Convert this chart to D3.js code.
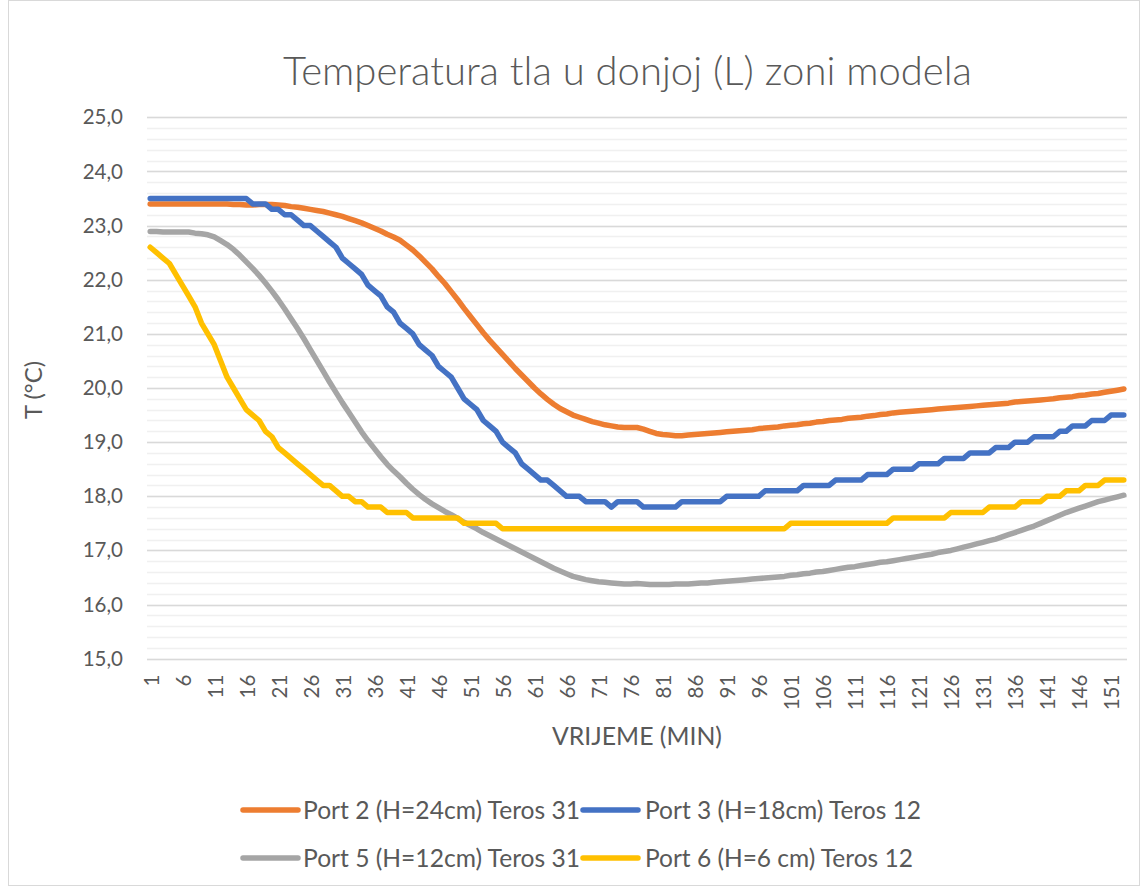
<!DOCTYPE html>
<html>
<head>
<meta charset="utf-8">
<script src="https://cdn.jsdelivr.net/npm/d3@7"></script>
<style>
  html, body { margin: 0; padding: 0; background: #ffffff; }
  svg { display: block; }
  text { font-family: Lato, "Open Sans", "DejaVu Sans", sans-serif; fill: #595959; }
</style>
</head>
<body>
<svg id="chart" width="1143" height="886"></svg>
<script>
// ---------------- DATA ----------------
const minutes = [
  1,2,3,4,5,6,7,8,9,10,11,12,13,14,15,16,17,18,19,20,
  21,22,23,24,25,26,27,28,29,30,31,32,33,34,35,36,37,38,39,40,
  41,42,43,44,45,46,47,48,49,50,51,52,53,54,55,56,57,58,59,60,
  61,62,63,64,65,66,67,68,69,70,71,72,73,74,75,76,77,78,79,80,
  81,82,83,84,85,86,87,88,89,90,91,92,93,94,95,96,97,98,99,100,
  101,102,103,104,105,106,107,108,109,110,111,112,113,114,115,116,117,118,119,120,
  121,122,123,124,125,126,127,128,129,130,131,132,133,134,135,136,137,138,139,140,
  141,142,143,144,145,146,147,148,149,150,151,152,153
];

const xTickLabels = ["1","6","11","16","21","26","31","36","41","46","51","56","61","66","71","76","81","86","91","96","101","106","111","116","121","126","131","136","141","146","151"];
const yTickValues = [15,16,17,18,19,20,21,22,23,24,25];
const yTickLabels = ["15,0","16,0","17,0","18,0","19,0","20,0","21,0","22,0","23,0","24,0","25,0"];

const seriesNames = [
  "Port 2 (H=24cm) Teros 31",
  "Port 3 (H=18cm) Teros 12",
  "Port 5 (H=12cm) Teros 31",
  "Port 6 (H=6 cm) Teros 12"
];
const seriesColors = ["#ED7D31", "#4472C4", "#A5A5A5", "#FFC000"];

const port2 = [
  23.40,23.40,23.40,23.40,23.40,23.40,23.40,23.40,23.40,23.40,
  23.40,23.40,23.40,23.39,23.39,23.38,23.38,23.39,23.39,23.39,
  23.38,23.37,23.35,23.34,23.32,23.30,23.28,23.26,23.23,23.20,
  23.17,23.13,23.09,23.05,23.00,22.95,22.90,22.84,22.79,22.73,
  22.64,22.55,22.44,22.32,22.20,22.06,21.93,21.78,21.63,21.47,
  21.32,21.17,21.02,20.88,20.75,20.62,20.49,20.36,20.24,20.12,
  20.00,19.89,19.79,19.70,19.62,19.56,19.50,19.46,19.42,19.38,
  19.35,19.32,19.30,19.28,19.27,19.27,19.27,19.24,19.20,19.16,
  19.14,19.13,19.12,19.12,19.13,19.14,19.15,19.16,19.17,19.18,
  19.19,19.20,19.21,19.22,19.23,19.25,19.26,19.27,19.28,19.30,
  19.31,19.32,19.34,19.35,19.37,19.38,19.40,19.41,19.42,19.44,
  19.45,19.46,19.48,19.49,19.51,19.52,19.54,19.55,19.56,19.57,
  19.58,19.59,19.60,19.61,19.62,19.63,19.64,19.65,19.66,19.67,
  19.68,19.69,19.70,19.71,19.72,19.74,19.75,19.76,19.77,19.78,
  19.79,19.80,19.82,19.83,19.84,19.86,19.87,19.89,19.90,19.92,
  19.94,19.96,19.98
];

const port3 = [
  23.5,23.5,23.5,23.5,23.5,23.5,23.5,23.5,23.5,23.5,
  23.5,23.5,23.5,23.5,23.5,23.5,23.4,23.4,23.4,23.3,
  23.3,23.2,23.2,23.1,23.0,23.0,22.9,22.8,22.7,22.6,
  22.4,22.3,22.2,22.1,21.9,21.8,21.7,21.5,21.4,21.2,
  21.1,21.0,20.8,20.7,20.6,20.4,20.3,20.2,20.0,19.8,
  19.7,19.6,19.4,19.3,19.2,19.0,18.9,18.8,18.6,18.5,
  18.4,18.3,18.3,18.2,18.1,18.0,18.0,18.0,17.9,17.9,
  17.9,17.9,17.8,17.9,17.9,17.9,17.9,17.8,17.8,17.8,
  17.8,17.8,17.8,17.9,17.9,17.9,17.9,17.9,17.9,17.9,
  18.0,18.0,18.0,18.0,18.0,18.0,18.1,18.1,18.1,18.1,
  18.1,18.1,18.2,18.2,18.2,18.2,18.2,18.3,18.3,18.3,
  18.3,18.3,18.4,18.4,18.4,18.4,18.5,18.5,18.5,18.5,
  18.6,18.6,18.6,18.6,18.7,18.7,18.7,18.7,18.8,18.8,
  18.8,18.8,18.9,18.9,18.9,19.0,19.0,19.0,19.1,19.1,
  19.1,19.1,19.2,19.2,19.3,19.3,19.3,19.4,19.4,19.4,
  19.5,19.5,19.5
];

const port5 = [
  22.89,22.89,22.88,22.88,22.88,22.88,22.88,22.86,22.85,22.83,
  22.79,22.72,22.65,22.56,22.45,22.33,22.21,22.08,21.94,21.79,
  21.63,21.46,21.28,21.10,20.91,20.71,20.51,20.31,20.11,19.92,
  19.73,19.55,19.37,19.19,19.03,18.88,18.73,18.59,18.47,18.36,
  18.24,18.13,18.03,17.94,17.86,17.79,17.72,17.66,17.59,17.52,
  17.46,17.40,17.33,17.27,17.21,17.15,17.09,17.03,16.97,16.91,
  16.85,16.79,16.73,16.67,16.62,16.57,16.52,16.49,16.46,16.44,
  16.42,16.41,16.40,16.39,16.38,16.38,16.39,16.38,16.37,16.37,
  16.37,16.37,16.38,16.38,16.38,16.39,16.40,16.40,16.41,16.42,
  16.43,16.44,16.45,16.46,16.47,16.48,16.49,16.50,16.51,16.52,
  16.54,16.55,16.57,16.58,16.60,16.61,16.63,16.65,16.67,16.69,
  16.70,16.72,16.74,16.76,16.78,16.79,16.81,16.83,16.85,16.87,
  16.89,16.91,16.93,16.96,16.98,17.00,17.03,17.06,17.09,17.12,
  17.15,17.18,17.21,17.25,17.29,17.33,17.37,17.41,17.45,17.50,
  17.55,17.60,17.65,17.70,17.74,17.78,17.82,17.86,17.90,17.93,
  17.96,17.99,18.02
];

const port6 = [
  22.6,22.5,22.4,22.3,22.1,21.9,21.7,21.5,21.2,21.0,
  20.8,20.5,20.2,20.0,19.8,19.6,19.5,19.4,19.2,19.1,
  18.9,18.8,18.7,18.6,18.5,18.4,18.3,18.2,18.2,18.1,
  18.0,18.0,17.9,17.9,17.8,17.8,17.8,17.7,17.7,17.7,
  17.7,17.6,17.6,17.6,17.6,17.6,17.6,17.6,17.6,17.5,
  17.5,17.5,17.5,17.5,17.5,17.4,17.4,17.4,17.4,17.4,
  17.4,17.4,17.4,17.4,17.4,17.4,17.4,17.4,17.4,17.4,
  17.4,17.4,17.4,17.4,17.4,17.4,17.4,17.4,17.4,17.4,
  17.4,17.4,17.4,17.4,17.4,17.4,17.4,17.4,17.4,17.4,
  17.4,17.4,17.4,17.4,17.4,17.4,17.4,17.4,17.4,17.4,
  17.5,17.5,17.5,17.5,17.5,17.5,17.5,17.5,17.5,17.5,
  17.5,17.5,17.5,17.5,17.5,17.5,17.6,17.6,17.6,17.6,
  17.6,17.6,17.6,17.6,17.6,17.7,17.7,17.7,17.7,17.7,
  17.7,17.8,17.8,17.8,17.8,17.8,17.9,17.9,17.9,17.9,
  18.0,18.0,18.0,18.1,18.1,18.1,18.2,18.2,18.2,18.3,
  18.3,18.3,18.3
];

const seriesValues = [port2, port3, port5, port6];

// ---------------- LAYOUT ----------------
const W = 1143, H = 886;
const plotLeft = 147, plotRight = 1127, plotTop = 117.3, plotBottom = 658.7;

const svg = d3.select("#chart");
svg.append("rect").attr("x", 0).attr("y", 0).attr("width", W).attr("height", H).attr("fill", "#ffffff");
// chart area border
svg.append("rect").attr("x", 8.5).attr("y", 0.5).attr("width", 1131).attr("height", 885)
  .attr("fill", "none").attr("stroke", "#d9d9d9").attr("stroke-width", 1);

const x = d3.scaleBand().domain(minutes).range([plotLeft, plotRight]).padding(0);
const y = d3.scaleLinear().domain([15, 25]).range([plotBottom, plotTop]);
const cx = d => x(d) + x.bandwidth() / 2;

// minor gridlines (0.2)
const minorTicks = y.ticks(50);
svg.append("g").selectAll("line").data(minorTicks).join("line")
  .attr("x1", plotLeft).attr("x2", plotRight)
  .attr("y1", d => Math.round(y(d)) + 0.5).attr("y2", d => Math.round(y(d)) + 0.5)
  .attr("stroke", "#f0f0f0").attr("stroke-width", 1.5);

// y-axis labels via d3.axisLeft
const yAxis = d3.axisLeft(y).tickValues(yTickValues)
  .tickFormat((d, i) => yTickLabels[i]).tickSize(0).tickPadding(0);
const gy = svg.append("g").attr("transform", `translate(${plotLeft},0)`).call(yAxis);
gy.select(".domain").remove();
gy.selectAll("line").remove();
gy.selectAll("text").attr("x", 123 - plotLeft).attr("font-size", 20.5).attr("fill", "#595959")
  .style("font-family", "Lato, 'Open Sans', sans-serif");

// major gridlines
svg.append("g").selectAll("line").data(yTickValues).join("line")
  .attr("x1", plotLeft).attr("x2", plotRight)
  .attr("y1", d => Math.round(y(d)) + 0.5).attr("y2", d => Math.round(y(d)) + 0.5)
  .attr("stroke", "#d9d9d9").attr("stroke-width", 1.5);

// x axis (category labels rotated)
const xAxis = d3.axisBottom(x)
  .tickValues(minutes.filter(m => xTickLabels.includes(String(m))))
  .tickFormat(d => String(d)).tickSize(0).tickPadding(0);
const gx = svg.append("g").attr("transform", `translate(0,${plotBottom})`).call(xAxis);
gx.select(".domain").remove();
gx.selectAll("line").remove();
gx.selectAll("text")
  .attr("font-size", 20.5).attr("fill", "#595959")
  .style("font-family", "Lato, 'Open Sans', sans-serif")
  .attr("text-anchor", "end")
  .attr("transform", "translate(1,16) rotate(-90)")
  .attr("x", 0).attr("y", 0).attr("dy", "0.36em");

// series lines
const line = d3.line().x((v, i) => cx(minutes[i])).y(v => y(v));
const gLines = svg.append("g");
seriesValues.forEach((vals, k) => {
  gLines.append("path").datum(vals)
    .attr("d", line)
    .attr("fill", "none")
    .attr("stroke", seriesColors[k])
    .attr("stroke-width", 5.5)
    .attr("stroke-linejoin", "round")
    .attr("stroke-linecap", "round");
});

// helper to fit text to a target width
function fitWidth(sel, target) {
  const node = sel.node();
  const w = node.getComputedTextLength();
  if (w > 0) {
    const fs = parseFloat(sel.attr("font-size"));
    sel.attr("font-size", (fs * target / w).toFixed(2));
  }
}

// title
const title = svg.append("text")
  .attr("x", 627.5).attr("y", 85)
  .attr("text-anchor", "middle")
  .attr("font-size", 36).attr("font-weight", 300)
  .text("Temperatura tla u donjoj (L) zoni modela");
fitWidth(title, 689);

// axis titles
const xt = svg.append("text")
  .attr("x", 637).attr("y", 745)
  .attr("text-anchor", "middle").attr("font-size", 20)
  .text("VRIJEME (MIN)");
fitWidth(xt, 170);

const yt = svg.append("text")
  .attr("transform", "translate(42,390) rotate(-90)")
  .attr("text-anchor", "middle").attr("font-size", 20)
  .text("T (°C)");
fitWidth(yt, 58);

// legend
const legendItems = [
  { lx: 243, tx: 303, cy: 810, tw: 277 },
  { lx: 583, tx: 645, cy: 810, tw: 276 },
  { lx: 243, tx: 303, cy: 858, tw: 277 },
  { lx: 583, tx: 645, cy: 858, tw: 268 }
];
const gLeg = svg.append("g");
legendItems.forEach((it, k) => {
  gLeg.append("line")
    .attr("x1", it.lx).attr("x2", it.lx + 55)
    .attr("y1", it.cy).attr("y2", it.cy)
    .attr("stroke", seriesColors[k]).attr("stroke-width", 5.5)
    .attr("stroke-linecap", "round");
  const t = gLeg.append("text")
    .attr("x", it.tx).attr("y", it.cy).attr("dy", "0.35em")
    .attr("font-size", 20)
    .text(seriesNames[k]);
  fitWidth(t, it.tw);
});
</script>
</body>
</html>
